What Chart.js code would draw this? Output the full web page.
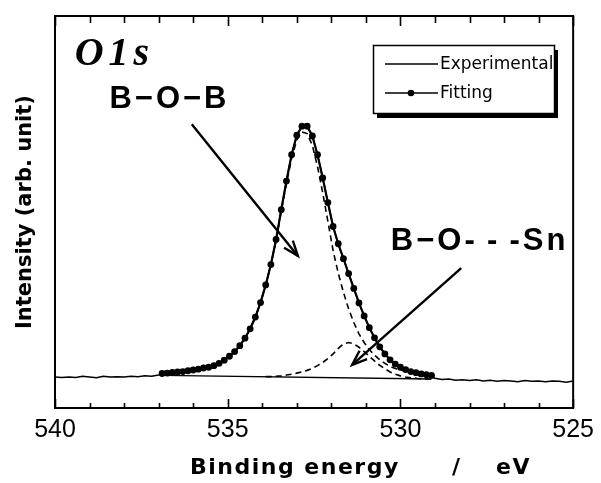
<!DOCTYPE html>
<html>
<head>
<meta charset="utf-8">
<script src="https://cdn.jsdelivr.net/npm/chart.js@4.4.1/dist/chart.umd.min.js"></script>
<style>
  html, body { margin: 0; padding: 0; background: #fff; }
  #wrap { width: 601px; height: 483px; }
</style>
</head>
<body>
<div id="wrap"><canvas id="c" width="601" height="483"></canvas></div>
<script>
// O1s XPS spectrum: binding energy (eV) vs intensity (arb. unit)

// Fitted envelope and its two components, sampled every 0.15 eV
const fitEnergy = [536.9, 536.75, 536.6, 536.45, 536.3, 536.15, 536.0, 535.85, 535.7, 535.55,
  535.4, 535.25, 535.1, 534.95, 534.8, 534.65, 534.5, 534.35, 534.2, 534.05,
  533.9, 533.75, 533.6, 533.45, 533.3, 533.15, 533.0, 532.85, 532.7, 532.55,
  532.4, 532.25, 532.1, 531.95, 531.8, 531.65, 531.5, 531.35, 531.2, 531.05,
  530.9, 530.75, 530.6, 530.45, 530.3, 530.15, 530.0, 529.85, 529.7, 529.55,
  529.4, 529.25, 529.1];

const fitTotal = [8.8, 8.9, 9.1, 9.2, 9.3, 9.5, 9.7, 9.9, 10.2, 10.4,
  10.8, 11.4, 12.2, 13.2, 14.4, 15.9, 17.8, 20.2, 23.2, 26.9,
  31.4, 36.6, 43.0, 50.6, 57.9, 64.6, 69.6, 71.9, 71.9, 69.4,
  64.6, 58.7, 52.4, 46.3, 41.9, 38.1, 34.3, 30.5, 26.8, 23.5,
  20.5, 17.9, 15.6, 13.8, 12.3, 11.2, 10.4, 9.8, 9.3, 9.0,
  8.7, 8.5, 8.3];

// B-O-B component
const peakBOB = [8.8, 8.9, 9.1, 9.2, 9.3, 9.5, 9.7, 9.9, 10.2, 10.4,
  10.8, 11.4, 12.2, 13.2, 14.4, 15.9, 17.8, 20.2, 23.2, 26.9,
  31.4, 36.5, 42.7, 50.2, 57.3, 63.7, 68.4, 70.4, 70.0, 67.0,
  61.6, 54.9, 47.6, 40.2, 34.4, 29.5, 25.3, 21.8, 18.9, 16.7,
  14.9, 13.5, 12.3, 11.4, 10.6, 10.1, 9.7, 9.4, 9.1, 8.9,
  8.7, 8.5, 8.3];

// B-O...Sn component (not drawn above 533.9 eV)
const peakBOSn = [null, null, null, null, null, null, null, null, null, null,
  null, null, null, null, null, null, null, null, null, null,
  8.0, 8.0, 8.1, 8.2, 8.4, 8.6, 8.9, 9.2, 9.6, 10.1,
  10.8, 11.6, 12.6, 13.8, 15.2, 16.3, 16.7, 16.4, 15.5, 14.4,
  13.2, 12.0, 10.9, 10.0, 9.2, 8.6, 8.2, 7.9, 7.7, 7.6,
  7.4, 7.4, 7.4];

// Linear background under the fit
const backgroundEnergy = [536.9, 529.1];
const backgroundIntensity = [8.3, 7.4];

// Measured spectrum
const expEnergy = [540.0, 539.8, 539.6, 539.4, 539.2, 539.0, 538.8, 538.6, 538.4, 538.2,
  538.0, 537.8, 537.6, 537.4, 537.2, 537.0,
  536.9, 536.75, 536.6, 536.45, 536.3, 536.15, 536.0, 535.85, 535.7, 535.55,
  535.4, 535.25, 535.1, 534.95, 534.8, 534.65, 534.5, 534.35, 534.2, 534.05,
  533.9, 533.75, 533.6, 533.45, 533.3, 533.15, 533.0, 532.85, 532.7, 532.55,
  532.4, 532.25, 532.1, 531.95, 531.8, 531.65, 531.5, 531.35, 531.2, 531.05,
  530.9, 530.75, 530.6, 530.45, 530.3, 530.15, 530.0, 529.85, 529.7, 529.55,
  529.4, 529.25, 529.1,
  529.0, 528.8, 528.6, 528.4, 528.2, 528.0, 527.8, 527.6, 527.4, 527.2,
  527.0, 526.8, 526.6, 526.4, 526.2, 526.0, 525.8, 525.6, 525.4, 525.2, 525.0];

const expIntensity = [7.9, 7.8, 7.9, 7.8, 8.1, 7.9, 7.7, 8.1, 7.9, 8.0,
  7.9, 8.1, 8.0, 8.2, 8.1, 8.4,
  8.6, 9.0, 8.9, 9.3, 9.2, 9.6, 9.6, 10.0, 10.1, 10.5,
  10.7, 11.5, 12.1, 13.3, 14.3, 16.0, 17.7, 20.3, 23.1, 27.0,
  31.3, 36.7, 42.9, 50.7, 57.8, 64.7, 69.5, 72.0, 71.8, 69.5,
  64.5, 58.8, 52.3, 46.4, 41.8, 38.2, 34.2, 30.6, 26.7, 23.6,
  20.4, 18.0, 15.5, 13.9, 12.2, 11.3, 10.3, 9.9, 9.2, 9.1,
  8.6, 8.4, 8.0,
  7.6, 7.3, 7.4, 7.1, 7.2, 7.0, 7.2, 6.9, 7.1, 6.8,
  7.0, 6.9, 6.7, 7.0, 6.8, 6.9, 6.7, 6.9, 6.8, 6.6, 6.9];

// Axis tick labels
const xTickLabels = [540, 535, 530, 525];

// Label anchors in data units (eV, intensity)
const labels = [
  { text: 'B\u2212O\u2212B', at: [536.73, 78.8], spacing: 3 },
  { text: 'B\u2212O-\u2009-\u2009-Sn', at: [527.75, 42.6], spacing: 3 }
];
const arrows = [
  { from: [536.04, 72.4], to: [532.97, 38.8] },
  { from: [528.24, 35.7], to: [531.40, 11.0] }
];

function pairs(xs, ys) {
  const out = [];
  for (let i = 0; i < xs.length; i++) {
    if (ys[i] !== null) out.push({ x: xs[i], y: ys[i] });
  }
  return out;
}

function drawArrow(ctx, x1, y1, x2, y2) {
  const ang = Math.atan2(y2 - y1, x2 - x1);
  const len = 16, spread = 0.36;
  ctx.beginPath();
  ctx.moveTo(x1, y1);
  ctx.lineTo(x2, y2);
  ctx.stroke();
  ctx.beginPath();
  ctx.moveTo(x2 - len * Math.cos(ang - spread), y2 - len * Math.sin(ang - spread));
  ctx.lineTo(x2, y2);
  ctx.lineTo(x2 - len * Math.cos(ang + spread), y2 - len * Math.sin(ang + spread));
  ctx.stroke();
}

// x axis title, drawn word by word with wide word gaps
const xTitleWords = [
  { text: 'Binding energy', left: 190 },
  { text: '/', left: 452 },
  { text: 'eV', left: 496 }
];

const decorations = {
  id: 'decorations',
  afterDatasetsDraw(chart) {
    const { ctx, chartArea: a, scales: { x, y } } = chart;
    ctx.save();
    ctx.strokeStyle = '#000';
    ctx.fillStyle = '#000';

    // frame
    ctx.lineWidth = 2;
    ctx.strokeRect(a.left, a.top, a.right - a.left, a.bottom - a.top);

    // inward ticks, major every 5 eV, minor every 1 eV
    ctx.lineWidth = 1.6;
    for (let v = 525; v <= 540; v++) {
      const px = Math.round(x.getPixelForValue(v)) + 0.5;
      const major = v % 5 === 0;
      const lb = major ? 9 : 5;
      const lt = major ? 10 : 7;
      ctx.beginPath();
      ctx.moveTo(px, a.bottom); ctx.lineTo(px, a.bottom - lb);
      ctx.moveTo(px, a.top); ctx.lineTo(px, a.top + lt);
      ctx.stroke();
    }

    // panel label
    ctx.font = 'italic bold 40px "Liberation Serif", "Times New Roman", serif';
    ctx.textAlign = 'left';
    ctx.textBaseline = 'alphabetic';
    ctx.letterSpacing = '5px';
    ctx.fillText('O1s', x.getPixelForValue(539.43), y.getPixelForValue(87.5));

    // peak labels and arrows
    ctx.font = 'bold 31px "Liberation Sans", Arial, sans-serif';
    ctx.textAlign = 'center';
    ctx.textBaseline = 'middle';
    labels.forEach(l => {
      ctx.letterSpacing = l.spacing + 'px';
      ctx.fillText(l.text, x.getPixelForValue(l.at[0]) + l.spacing / 2, y.getPixelForValue(l.at[1]));
    });
    ctx.letterSpacing = '0px';
    ctx.lineWidth = 2.4;
    arrows.forEach(ar => {
      drawArrow(ctx,
        x.getPixelForValue(ar.from[0]), y.getPixelForValue(ar.from[1]),
        x.getPixelForValue(ar.to[0]), y.getPixelForValue(ar.to[1]));
    });

    // legend box with drop shadow
    const L = { x: 373, y: 45, w: 181, h: 68 };
    ctx.fillRect(L.x + 4, L.y + 5, L.w, L.h);
    ctx.fillStyle = '#fff';
    ctx.fillRect(L.x, L.y, L.w, L.h);
    ctx.fillStyle = '#000';
    ctx.lineWidth = 1.5;
    ctx.strokeRect(L.x + 0.5, L.y + 0.5, L.w, L.h);
    ctx.font = '17px "DejaVu Sans", sans-serif';
    ctx.textAlign = 'left';
    ctx.textBaseline = 'middle';
    const rows = [
      { text: 'Experimental', yy: L.y + 19, dot: false },
      { text: 'Fitting', yy: L.y + 48, dot: true }
    ];
    rows.forEach(r => {
      ctx.lineWidth = 1.5;
      ctx.beginPath();
      ctx.moveTo(L.x + 12, r.yy); ctx.lineTo(L.x + 65, r.yy);
      ctx.stroke();
      if (r.dot) {
        ctx.beginPath();
        ctx.arc(L.x + 38, r.yy, 3.3, 0, Math.PI * 2);
        ctx.fill();
      }
      ctx.fillText(r.text, L.x + 67, r.yy + 1);
    });

    // x axis title
    ctx.font = 'bold 22px "DejaVu Sans", sans-serif';
    ctx.textAlign = 'left';
    ctx.textBaseline = 'middle';
    ctx.letterSpacing = '1.5px';
    xTitleWords.forEach(w => ctx.fillText(w.text, w.left, 468));
    ctx.restore();
  }
};

const lineStyle = { borderColor: '#000', pointRadius: 0, tension: 0, fill: false };

new Chart(document.getElementById('c'), {
  type: 'line',
  data: {
    datasets: [
      { ...lineStyle, label: 'Fitting', data: pairs(fitEnergy, fitTotal), borderWidth: 2.2,
        pointRadius: 3.4, pointBackgroundColor: '#000', pointBorderWidth: 0 },
      { ...lineStyle, label: 'B-O-B', data: pairs(fitEnergy, peakBOB), borderWidth: 1.6, borderDash: [6, 4] },
      { ...lineStyle, label: 'B-O...Sn', data: pairs(fitEnergy, peakBOSn), borderWidth: 1.6, borderDash: [6, 4] },
      { ...lineStyle, label: 'Background', data: pairs(backgroundEnergy, backgroundIntensity), borderWidth: 1.3 },
      { ...lineStyle, label: 'Experimental', data: pairs(expEnergy, expIntensity), borderWidth: 1.5 }
    ]
  },
  options: {
    responsive: false,
    animation: false,
    devicePixelRatio: 1,
    layout: { padding: { left: 0, right: 23, top: 16, bottom: 0 } },
    plugins: { legend: { display: false }, tooltip: { enabled: false } },
    scales: {
      x: {
        type: 'linear', reverse: true, min: 525, max: 540,
        afterFit(s) { s.height = 75; },
        afterBuildTicks(s) { s.ticks = xTickLabels.map(v => ({ value: v })); },
        ticks: { color: '#000', padding: 7, maxRotation: 0, autoSkip: false,
          font: { family: '"Liberation Sans", sans-serif', size: 25 } },
        grid: { display: false, drawTicks: false },
        border: { display: false }
      },
      y: {
        min: 0, max: 100,
        afterFit(s) { s.width = 55; },
        ticks: { display: false },
        grid: { display: false, drawTicks: false },
        border: { display: false },
        title: { display: true, text: 'Intensity (arb. unit)', color: '#000',
          font: { family: '"DejaVu Sans", sans-serif', size: 21, weight: 'bold' },
          padding: { top: 13, bottom: 0 } }
      }
    }
  },
  plugins: [decorations]
});
</script>
</body>
</html>
